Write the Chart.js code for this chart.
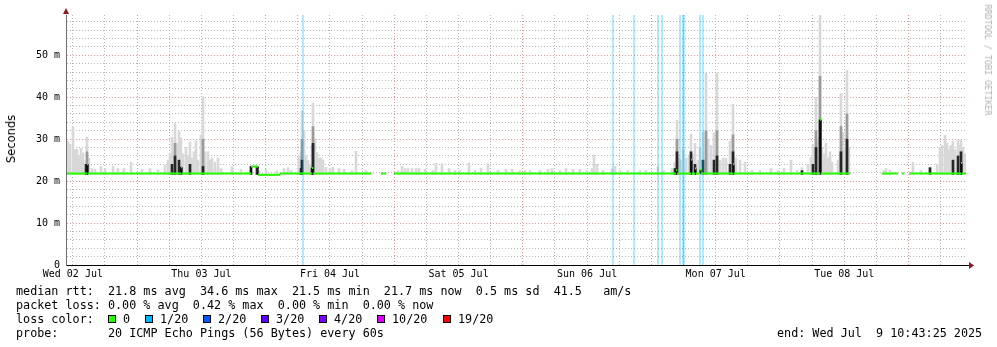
<!DOCTYPE html>
<html>
<head>
<meta charset="utf-8">
<script src="https://cdn.jsdelivr.net/npm/chart.js@4.4.1/dist/chart.umd.min.js"></script>
<style>
  body { margin: 0; background: #fff; }
  #wrap { position: relative; width: 997px; height: 347px; background: #fff; overflow: hidden; }
  #smokeChart { position: absolute; left: 0; top: 0; }
  .txt { position: absolute; margin: 0; font: 11.75px "DejaVu Sans Mono", monospace; line-height: 14px; color: #000; white-space: pre; }
  .ytitle { position: absolute; left: 11px; top: 139px; font: 11.5px "DejaVu Sans", sans-serif; color: #000;
            transform: translate(-50%, -50%) rotate(-90deg); white-space: nowrap; }
  .mark { position: absolute; left: 988px; top: 60px; font: 8.4px "DejaVu Sans Mono", monospace; color: #b0b0b0;
          transform: translate(-50%, -50%) rotate(90deg); white-space: nowrap; }
  .box { position: absolute; width: 6px; height: 6px; border: 1px solid #000; }
</style>
</head>
<body>
<div id="wrap">
  <canvas id="smokeChart" width="997" height="347"></canvas>
  <div class="ytitle">Seconds</div>
  <div class="mark">RRDTOOL / TOBI OETIKER</div>
  <div class="txt" style="left:16px;top:284px">median rtt:  21.8 ms avg  34.6 ms max  21.5 ms min  21.7 ms now  0.5 ms sd  41.5   am/s</div>
  <div class="txt" style="left:16px;top:298px">packet loss: 0.00 % avg  0.42 % max  0.00 % min  0.00 % now</div>
  <div class="txt" style="left:16px;top:312px">loss color:</div>
  <div id="lossLegend"></div>
  <div class="txt" style="left:16px;top:326px">probe:       20 ICMP Echo Pings (56 Bytes) every 60s</div>
  <div class="txt" style="left:777px;top:326px">end: Wed Jul  9 10:43:25 2025</div>
</div>
<script>
// one rrd row per pixel: 900 rows of 11.2 min = one week ending Wed Jul 9 10:43:25
const START_HOUR = 10 + 43 / 60 + 25 / 3600;
const STEP_MIN = 11.2;
const ROWS = 900;
const Y_MAX = 59.6; // ms

const dayLabels = ['Wed 02 Jul', 'Thu 03 Jul', 'Fri 04 Jul', 'Sat 05 Jul', 'Sun 06 Jul', 'Mon 07 Jul', 'Tue 08 Jul'];
const yMajor = [0, 10, 20, 30, 40, 50];
const yLabels = ['0', '10 m', '20 m', '30 m', '40 m', '50 m'];

const lossLabels = ['0', '1/20', '2/20', '3/20', '4/20', '10/20', '19/20'];
const lossColors = ['#26ff00', '#00b8ff', '#0059ff', '#5e00ff', '#7e00ff', '#dd00ff', '#ff0000'];

// median rtt (ms), each value holds until the next row listed, null = no data
const medIdx = [0, 21, 22, 115, 116, 185, 192, 214, 246, 247,
  304, 305, 315, 319, 320, 328, 610, 611, 625, 626,
  629, 630, 634, 635, 667, 668, 754, 755, 783, 784,
  816, 831, 832, 836, 837, 838, 843, 895, 896, 900];
const medVal = [21.8, 24.0, 21.8, 23.3, 21.8, 23.5, 21.5, 21.8, 23.1, 21.8,
  21.8, null, 21.8, 21.8, null, 21.8, 22.6, 21.8, 25.1, 21.8,
  23.0, 21.8, 22.7, 21.8, 24.0, 21.8, 34.6, 21.8, 21.8, null,
  21.8, 21.8, null, 21.8, 21.8, null, 21.8, 24.3, 21.8, 21.8];

// smoke: highest ping per row (ms)
const SMOKE_BASE = 21.6;
const smokeIdx = [0, 2, 4, 7, 9, 11, 13, 15, 17, 20,
  21, 23, 26, 29, 35, 39, 47, 52, 58, 65,
  76, 84, 92, 99, 102, 104, 106, 109, 111, 113,
  115, 117, 120, 122, 124, 126, 128, 130, 132, 135,
  137, 139, 142, 144, 146, 149, 152, 155, 166, 175,
  185, 191, 193, 200, 211, 218, 222, 225, 233, 235,
  236, 238, 240, 242, 244, 246, 247, 249, 251, 253,
  255, 257, 260, 264, 267, 273, 278, 286, 290, 300,
  332, 336, 339, 342, 346, 350, 353, 359, 367, 370,
  376, 383, 389, 394, 403, 409, 415, 422, 432, 440,
  446, 454, 459, 464, 474, 482, 486, 494, 500, 507,
  514, 521, 526, 528, 531, 537, 546, 549, 554, 562,
  574, 580, 592, 598, 606, 609, 611, 613, 615, 617,
  620, 623, 625, 627, 629, 632, 634, 637, 640, 642,
  645, 648, 651, 654, 657, 660, 664, 667, 670, 674,
  679, 686, 694, 705, 712, 718, 725, 731, 736, 742,
  745, 747, 750, 752, 754, 756, 758, 760, 762, 764,
  766, 772, 774, 775, 777, 779, 781, 783, 818, 820,
  824, 847, 855, 864, 871, 874, 876, 879, 881, 883,
  885, 887, 889, 892, 894, 895, 897, 899];
const smokeTop = [29.0, 29.5, 28.8, 32.9, 27.5, 27.6, 26.0, 27.8, 26.7, 25.0,
  30.5, 25.5, 23.0, 22.8, 23.5, 23.0, 23.5, 23.0, 23.0, 24.5,
  22.8, 23.0, 22.7, 23.8, 25.0, 26.5, 30.5, 33.7, 29.0, 31.8,
  30.3, 26.5, 28.0, 26.0, 29.3, 25.5, 27.0, 29.6, 25.0, 31.0,
  40.1, 27.0, 27.0, 25.0, 25.5, 24.5, 25.5, 23.0, 23.5, 22.8,
  23.5, 23.5, 22.5, 22.8, 22.5, 23.0, 23.2, 22.5, 25.8, 27.0,
  36.7, 32.1, 26.0, 25.0, 24.0, 28.5, 38.6, 30.0, 26.8, 25.5,
  25.5, 25.0, 23.3, 23.0, 23.3, 23.0, 22.8, 22.5, 27.1, 22.5,
  22.5, 23.5, 23.0, 23.0, 23.0, 23.0, 23.0, 22.8, 22.5, 24.3,
  24.2, 23.0, 22.5, 22.5, 24.3, 22.6, 23.0, 24.2, 22.6, 22.8,
  22.8, 22.5, 22.5, 22.5, 22.5, 22.8, 23.0, 22.5, 23.0, 22.8,
  22.8, 22.5, 23.0, 26.2, 24.0, 22.5, 23.0, 23.5, 22.5, 22.5,
  22.5, 22.5, 23.4, 22.5, 23.0, 24.5, 34.5, 25.5, 25.0, 27.6,
  25.5, 26.0, 31.2, 26.5, 29.0, 25.0, 28.0, 31.7, 45.8, 30.0,
  28.5, 31.5, 45.8, 25.0, 25.5, 25.5, 29.5, 38.3, 25.5, 25.0,
  24.5, 22.6, 22.5, 23.0, 22.5, 23.0, 25.0, 22.5, 23.2, 24.0,
  25.7, 28.8, 39.9, 30.3, 59.5, 28.0, 26.5, 29.0, 25.5, 27.0,
  24.5, 25.0, 27.0, 40.9, 31.5, 28.0, 46.4, 28.0, 22.5, 23.0,
  22.6, 24.5, 22.5, 23.2, 24.0, 28.0, 28.5, 30.9, 29.0, 27.5,
  28.5, 29.5, 27.5, 29.7, 28.5, 29.7, 28.0, 26.5];

// denser smoke near the median
const midIdx = [21, 109, 137, 236, 247, 611, 640, 651, 667, 750, 754, 775, 781];
const midTop = [27.0, 29.0, 30.0, 30.0, 33.0, 30.0, 32.0, 32.0, 31.0, 32.0, 45.0, 33.0, 36.0];
const darkIdx = [20, 21, 106, 109, 113, 115, 124, 137, 185, 191,
  235, 236, 246, 247, 609, 611, 625, 629, 637, 648,
  651, 664, 667, 736, 747, 750, 754, 775, 781, 864,
  887, 892, 895];
const darkTop = [24.0, 24.0, 24.0, 26.0, 25.0, 23.3, 24.0, 23.5, 23.5, 23.5,
  23.0, 25.0, 23.1, 29.0, 23.0, 27.0, 27.0, 24.0, 25.0, 25.0,
  26.0, 24.0, 27.0, 22.5, 24.0, 28.0, 34.6, 27.0, 30.0, 23.2,
  25.0, 26.0, 27.0];

// rows with 1/20 packet loss
const lossIdx = [237, 547, 568, 592, 596, 614, 617, 618, 634, 637];

function buildLossLegend() {
  const el = document.getElementById('lossLegend');
  const boxX = [108, 145, 203, 261, 319, 377, 443];
  lossLabels.forEach((lab, i) => {
    const b = document.createElement('div');
    b.className = 'box';
    b.style.left = boxX[i] + 'px';
    b.style.top = '315px';
    b.style.background = lossColors[i];
    el.appendChild(b);
    const t = document.createElement('div');
    t.className = 'txt';
    t.style.left = (boxX[i] + 15) + 'px';
    t.style.top = '312px';
    t.textContent = lab;
    el.appendChild(t);
  });
}

function xTicks() {
  const ticks = [];
  for (let h = 6; h < 190; h += 6) {
    const v = (h - START_HOUR) * 60 / STEP_MIN;
    if (v < 0 || v > ROWS) continue;
    ticks.push({
      value: v,
      midnight: h % 24 === 0,
      dayLabel: h % 24 === 12 ? dayLabels[(h - 12) / 24] : '',
    });
  }
  return ticks;
}

// green horizontal runs only; the steps between them are drawn black underneath
function medianRuns() {
  const pts = [];
  for (let i = 0; i < medIdx.length - 1; i++) {
    if (medVal[i] === null) continue;
    pts.push({ x: medIdx[i], y: medVal[i] });
    pts.push({ x: medIdx[i + 1], y: medVal[i] });
    pts.push({ x: medIdx[i + 1], y: null });
  }
  return pts;
}

const arrows = {
  id: 'arrows',
  afterDraw(chart) {
    const { ctx, chartArea: a } = chart;
    ctx.save();
    ctx.strokeStyle = '#000';
    ctx.lineWidth = 1;
    ctx.beginPath();
    ctx.moveTo(a.right, a.bottom + 0.5);
    ctx.lineTo(a.right + 4, a.bottom + 0.5);
    ctx.stroke();
    ctx.fillStyle = '#8b1a1a';
    ctx.beginPath();
    ctx.moveTo(a.left - 3, a.top - 1);
    ctx.lineTo(a.left + 3, a.top - 1);
    ctx.lineTo(a.left, a.top - 7);
    ctx.closePath();
    ctx.fill();
    ctx.beginPath();
    ctx.moveTo(a.right + 3, a.bottom - 3);
    ctx.lineTo(a.right + 3, a.bottom + 4);
    ctx.lineTo(a.right + 8, a.bottom + 0.5);
    ctx.closePath();
    ctx.fill();
    ctx.restore();
  },
};

function createSmokeChart() {
  const canvas = document.getElementById('smokeChart');
  const ctx = canvas.getContext('2d');
  Chart.defaults.font.family = '"DejaVu Sans Mono", monospace';

  const floating = (idx, top) => idx.map((x, i) => ({ x, y: [SMOKE_BASE, top[i]] }));

  new Chart(ctx, {
    type: 'bar',
    data: {
      datasets: [
        {
          type: 'line',
          data: medianRuns(),
          borderColor: '#26ff00',
          borderWidth: 2,
          pointRadius: 0,
          spanGaps: false,
          order: 0,
        },
        {
          type: 'line',
          data: medIdx.map((x, i) => ({ x, y: medVal[i] })),
          borderColor: '#000',
          borderWidth: 1,
          stepped: 'before',
          pointRadius: 0,
          spanGaps: false,
          order: 1,
        },
        {
          data: lossIdx.map(x => ({ x, y: [0, Y_MAX] })),
          backgroundColor: 'rgba(0, 184, 255, 0.36)',
          barThickness: 1,
          grouped: false,
          order: 2,
        },
        {
          data: floating(darkIdx, darkTop),
          backgroundColor: '#262626',
          barThickness: 2,
          grouped: false,
          order: 3,
        },
        {
          data: floating(midIdx, midTop),
          backgroundColor: '#9a9a9a',
          barThickness: 2,
          grouped: false,
          order: 4,
        },
        {
          data: floating(smokeIdx, smokeTop),
          backgroundColor: '#d8d8d8',
          barThickness: 2,
          grouped: false,
          order: 5,
        },
      ],
    },
    options: {
      responsive: false,
      animation: false,
      devicePixelRatio: 1,
      layout: { padding: { left: 0, top: 15, right: 31, bottom: 0 } },
      plugins: { legend: { display: false }, tooltip: { enabled: false } },
      scales: {
        x: {
          type: 'linear',
          min: 0,
          max: ROWS,
          offset: false,
          afterBuildTicks: s => { s.ticks = xTicks(); },
          afterFit: s => { s.height = 82; },
          ticks: {
            autoSkip: false,
            maxRotation: 0,
            padding: 3,
            color: '#000',
            font: { size: 10 },
            callback: (v, i, ticks) => ticks[i].dayLabel,
          },
          grid: {
            drawTicks: false,
            offset: false,
            lineWidth: 1,
            color: c => (c.tick && c.tick.midnight ? 'rgba(225, 140, 140, 0.9)' : 'rgba(170, 170, 170, 0.85)'),
          },
          border: { color: '#000', dash: [1, 2], z: 1 },
        },
        y: {
          min: 0,
          max: Y_MAX,
          afterBuildTicks: s => {
            const t = [];
            for (let v = 0; v < Y_MAX; v += 2) t.push({ value: v });
            s.ticks = t;
          },
          afterFit: s => { s.width = 66; },
          ticks: {
            autoSkip: false,
            padding: 6,
            color: '#000',
            font: { size: 10 },
            callback: v => {
              const k = yMajor.indexOf(v);
              return k >= 0 ? yLabels[k] : '';
            },
          },
          grid: {
            drawTicks: false,
            lineWidth: 1,
            color: c => (c.tick && c.tick.value % 10 === 0 ? 'rgba(225, 140, 140, 0.9)' : 'rgba(170, 170, 170, 0.85)'),
          },
          border: { color: '#707070', dash: [1, 2], z: 1 },
        },
      },
    },
    plugins: [arrows],
  });
}

buildLossLegend();
document.addEventListener('DOMContentLoaded', createSmokeChart);
</script>
</body>
</html>
